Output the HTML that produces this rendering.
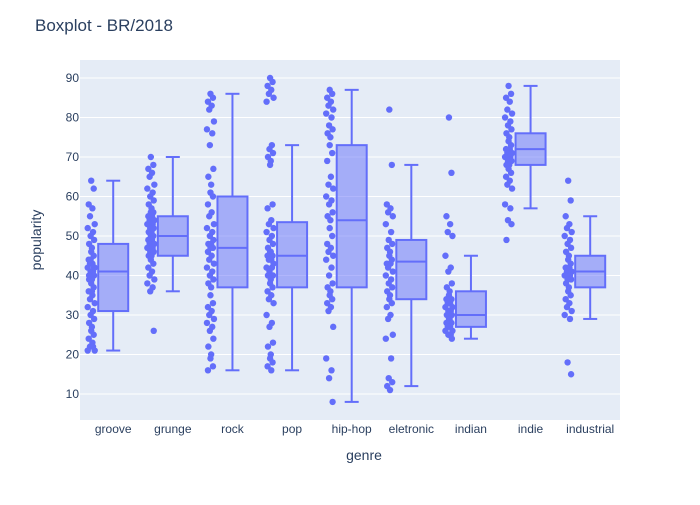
<!DOCTYPE html>
<html><head><meta charset="utf-8"><style>
body{margin:0;background:#fff;font-family:"Liberation Sans",sans-serif;}
</style></head><body>
<svg id="c" width="700" height="500" xmlns="http://www.w3.org/2000/svg">
<rect x="0" y="0" width="700" height="500" fill="#fff"/>
<text x="35" y="31" font-size="17" fill="#2a3f5f">Boxplot - BR/2018</text>
<rect x="80" y="60" width="540" height="360" fill="#e5ecf6"/>
<g id="grid"></g><g id="marks"></g><g id="axes"></g>
<text x="364" y="460" font-size="14" fill="#2a3f5f" text-anchor="middle">genre</text>
<text x="0" y="0" font-size="14" fill="#2a3f5f" text-anchor="middle" transform="translate(41,240) rotate(-90)">popularity</text>
</svg>
<script>
const categories=["groove","grunge","rock","pop","hip-hop","eletronic","indian","indie","industrial"];
const yTicks=[10,20,30,40,50,60,70,80,90];
const lowerFence=[21,36,16,16,8,12,24,57,29];
const q1=[31,45,37,37,37,34,27,68,37];
const median=[41,50,47,45,54,43.5,30,72,41];
const q3=[48,55,60,53.5,73,49,36,76,45];
const upperFence=[64,70,86,73,87,68,45,88,55];
const pts0=[64,62,58,57,55,53,52,51,50,49,48,47,46,45,44,43,43,42,42,41,41,40,40,39,38,37,36,35,34,33,32,31,30,29,28,27,26,25,24,23,22,21,21,22,44,42,39,36];
const pts1=[70,68,67,66,65,63,62,61,60,59,58,57,56,56,55,55,54,54,53,53,52,52,51,51,50,50,49,49,48,48,47,47,46,46,45,45,44,43,42,41,40,39,38,37,36,26];
const pts2=[86,85,84,83,82,79,77,76,73,67,65,63,61,60,58,56,55,53,52,51,50,49,48,48,47,47,46,45,44,43,42,41,40,39,38,37,35,33,32,31,30,29,28,27,26,24,22,20,19,17,16];
const pts3=[90,89,88,87,86,85,84,73,72,71,70,69,68,58,57,54,53,52,51,50,49,48,47,46,46,45,45,44,44,43,42,42,41,40,40,39,38,37,36,35,34,33,30,28,27,23,22,20,19,18,17,16];
const pts4=[87,86,85,84,83,82,81,80,78,77,76,75,73,71,69,65,63,62,60,59,58,56,55,54,52,50,48,47,46,45,44,42,40,38,37,36,35,34,33,32,31,27,19,16,14,8];
const pts5=[82,68,58,57,56,55,53,51,49,48,47,46,45,44,43,43,42,41,40,39,38,37,36,35,34,33,32,30,29,25,24,19,14,13,12,11];
const pts6=[80,66,55,53,51,50,45,42,41,38,37,36,35,34,34,33,33,32,32,31,31,30,30,29,29,28,28,27,27,26,26,25,25,24];
const pts7=[88,86,85,84,82,81,80,79,78,77,76,75,74,73,72,72,71,71,70,70,69,69,68,68,67,66,65,64,63,62,58,57,54,53,49];
const pts8=[64,59,55,53,52,51,50,49,48,47,46,45,44,43,42,42,41,41,40,40,39,39,38,37,36,35,34,33,32,31,30,29,18,15];
const points=[pts0,pts1,pts2,pts3,pts4,pts5,pts6,pts7,pts8];

const X0=83.4,BW=(620-83.4)/9;
const xc=i=>X0+BW*(i+0.5);
const y=v=>394-(v-10)*3.95;
const NS="http://www.w3.org/2000/svg";
function mk(p,t,a){const e=document.createElementNS(NS,t);for(const k in a)e.setAttribute(k,a[k]);p.appendChild(e);return e;}
const grid=document.getElementById('grid'),marks=document.getElementById('marks'),axes=document.getElementById('axes');
yTicks.forEach(v=>{
 const l=mk(grid,'line',{x1:80,x2:620,y1:y(v),y2:y(v),stroke:'#fff','stroke-width':1});
 
 
 const t=mk(axes,'text',{x:79-0,y:y(v)+4,'font-size':12,fill:'#2a3f5f','text-anchor':'end'});
 
 
 t.setAttribute('x',79);
 t.textContent=v;
});
const jit=[0,2.5,-2.5,1.2,-1.2,3.5,-3.5,1.8,-0.6,2.9,-2.1,0.7];
categories.forEach((c,i)=>{
 const cx=xc(i);
 const t=mk(axes,'text',{x:cx,y:433,'font-size':12,fill:'#2a3f5f','text-anchor':'middle'});
 
 
 t.textContent=c;
 const g=mk(marks,'g',{});
 
 
 const bx=cx-15,bw=30,col='#636efa';
 mk(g,'line',{x1:cx,x2:cx,y1:y(upperFence[i]),y2:y(q3[i]),stroke:col,'stroke-width':2});
 mk(g,'line',{x1:cx,x2:cx,y1:y(q1[i]),y2:y(lowerFence[i]),stroke:col,'stroke-width':2});
 mk(g,'line',{x1:cx-7,x2:cx+7,y1:y(upperFence[i]),y2:y(upperFence[i]),stroke:col,'stroke-width':2});
 mk(g,'line',{x1:cx-7,x2:cx+7,y1:y(lowerFence[i]),y2:y(lowerFence[i]),stroke:col,'stroke-width':2});
 mk(g,'rect',{x:bx,y:y(q3[i]),width:bw,height:y(q1[i])-y(q3[i]),fill:'rgba(99,110,250,0.5)',stroke:col,'stroke-width':2});
 mk(g,'line',{x1:bx,x2:bx+bw,y1:y(median[i]),y2:y(median[i]),stroke:col,'stroke-width':2});
 points[i].forEach((v,k)=>{
  const p=mk(g,'circle',{cx:cx-22+jit[k%jit.length],cy:y(v),r:3.2,fill:col});
  
  
 });
});
</script>
</body></html>
